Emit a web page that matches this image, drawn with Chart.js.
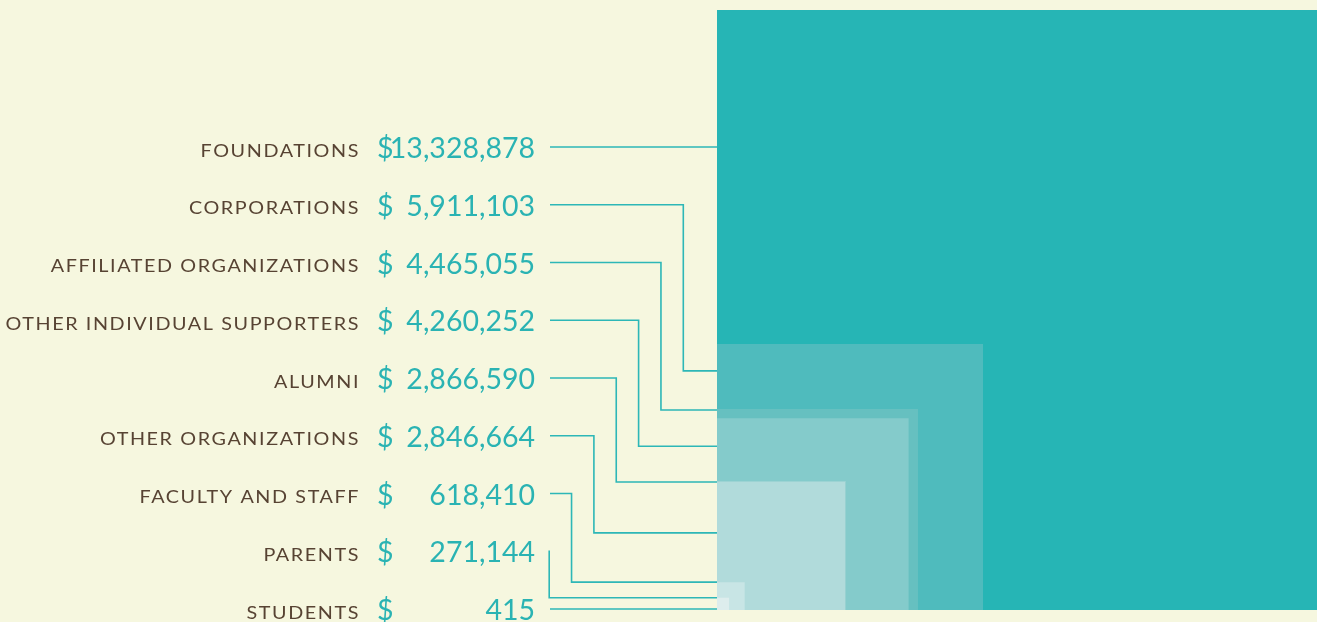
<!DOCTYPE html>
<html>
<head>
<meta charset="utf-8">
<script src="https://cdn.jsdelivr.net/npm/chart.js@4.4.1/dist/chart.umd.min.js"></script>
<style>
  html, body { margin: 0; padding: 0; background: #F6F7DF; }
  #wrap { position: relative; width: 1317px; height: 622px; }
</style>
</head>
<body>
<div id="wrap"><canvas id="c" width="1317" height="622"></canvas></div>
<script>
// ---- data ----
const categories = [
  "FOUNDATIONS", "CORPORATIONS", "AFFILIATED ORGANIZATIONS",
  "OTHER INDIVIDUAL SUPPORTERS", "ALUMNI", "OTHER ORGANIZATIONS",
  "FACULTY AND STAFF", "PARENTS", "STUDENTS"
];
const amounts = [13328878, 5911103, 4465055, 4260252, 2866590, 2846664, 618410, 271144, 415];

// ---- style ----
const squareColors = ["#26B5B5", "#4FBBBD", "#66C0C0", "#84CBCB", "#96D1D1", "#B1DBDB", "#C8E5E5", "#DDEDED", "#EEF4F0"];
const lineColor = "#2DB7B7";
const labelColor = "#574333";
const valueColor = "#2AB3B3";
// leader-line drop below the top edge of each square (px)
const leaderDrop = [0, 27, 1, 28, 1, 51, 0, 0, 0];

const maxVal = Math.max(...amounts);

const datasets = amounts.map((v, i) => ({
  label: categories[i],
  data: [{x: 0, y: v}, {x: v, y: v}],
  showLine: true,
  borderWidth: 0,
  pointRadius: 0,
  backgroundColor: squareColors[i],
  borderColor: squareColors[i],
  fill: 'origin',
  order: amounts.length - i
}));

const fmt = n => n.toLocaleString('en-US');

const annot = {
  id: 'annot',
  afterDraw(chart) {
    const ctx = chart.ctx;
    const xs = chart.scales.x, ys = chart.scales.y;
    const rowTop = 147, rowStep = 57.75;
    const lineStart = 550, leftEdge = xs.getPixelForValue(0);
    const vx0 = 683.3, vStep = 22.35;
    ctx.save();
    ctx.strokeStyle = lineColor;
    ctx.lineWidth = 1.6;
    const n = amounts.length;
    amounts.forEach((v, i) => {
      const ry = rowTop + i * rowStep;
      ctx.beginPath();
      if (i === 0 || i === n - 1) {
        ctx.moveTo(lineStart, ry);
        ctx.lineTo(leftEdge, ry);
      } else {
        const vx = vx0 - (i - 1) * vStep;
        const ey = ys.getPixelForValue(v) + leaderDrop[i];
        ctx.moveTo(lineStart, ry);
        ctx.lineTo(vx, ry);
        ctx.lineTo(vx, ey);
        ctx.lineTo(leftEdge, ey);
      }
      ctx.stroke();

      // category label (slightly widened glyphs)
      ctx.save();
      ctx.translate(360, ry + 9.5);
      ctx.scale(1.13, 1);
      ctx.fillStyle = labelColor;
      ctx.font = '17.5px Lato';
      ctx.letterSpacing = '1.4px';
      ctx.textAlign = 'right';
      ctx.textBaseline = 'alphabetic';
      ctx.fillText(categories[i], 0, 0);
      ctx.restore();

      // value
      ctx.letterSpacing = '0px';
      ctx.fillStyle = valueColor;
      ctx.font = '28.5px Lato';
      ctx.textAlign = 'left';
      ctx.fillText('$', 377, ry + 11);
      ctx.textAlign = 'right';
      ctx.fillText(fmt(v), 535, ry + 11);
    });
    ctx.restore();
  }
};

new Chart(document.getElementById('c'), {
  type: 'scatter',
  data: { datasets },
  options: {
    responsive: false,
    animation: false,
    events: [],
    layout: { padding: { left: 717, right: 0, top: 10, bottom: 12 } },
    plugins: { legend: { display: false }, tooltip: { enabled: false } },
    scales: {
      x: { type: 'linear', display: false, min: 0, max: maxVal },
      y: { type: 'linear', display: false, min: 0, max: maxVal }
    }
  },
  plugins: [annot]
});
</script>
</body>
</html>
